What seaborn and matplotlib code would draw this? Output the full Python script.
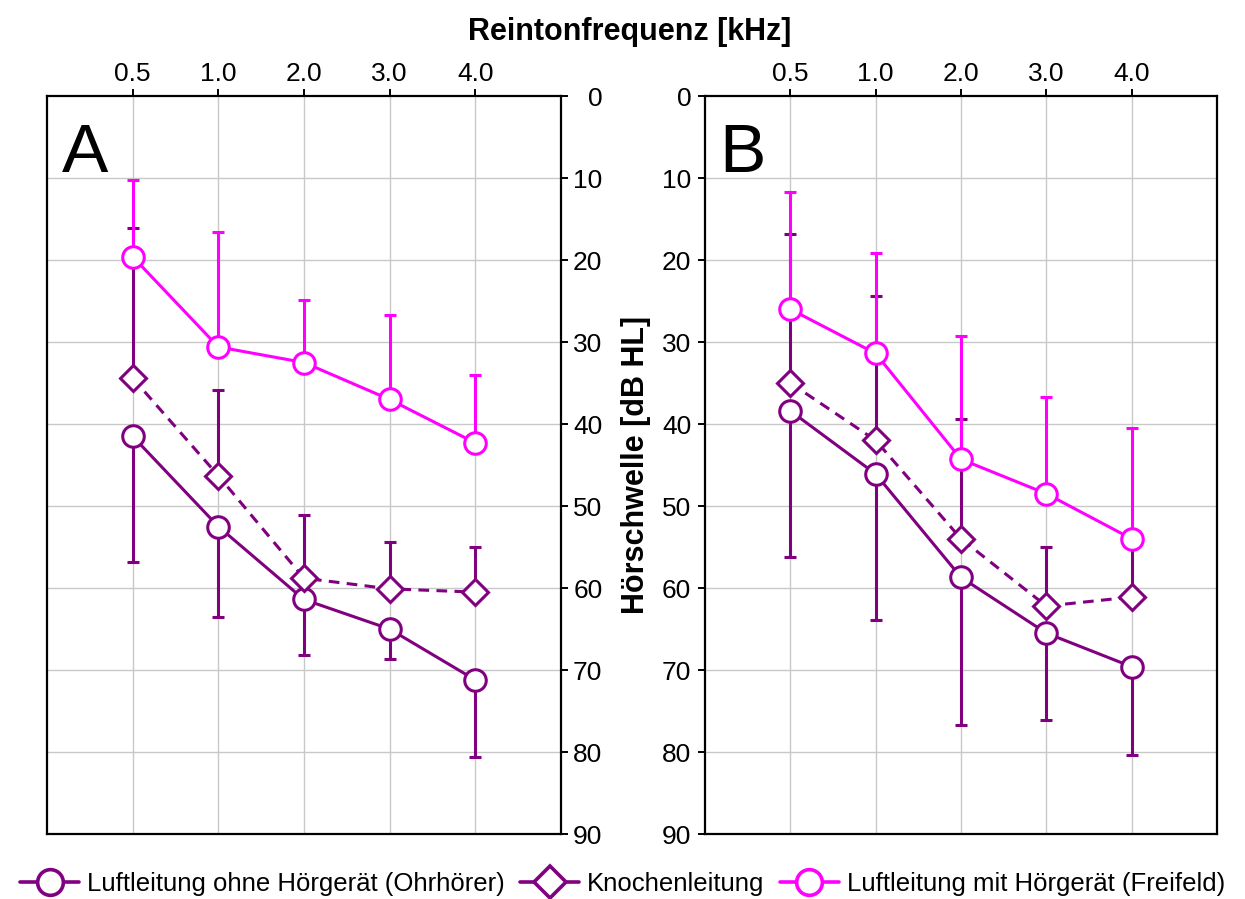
import numpy as np
import seaborn as sns
import matplotlib.pyplot as plt
from matplotlib.lines import Line2D

# Frequenzen (kategorial) und Achsenbeschriftung
freq_labels = ['0.5', '1.0', '2.0', '3.0', '4.0']
y_ticks = [0, 10, 20, 30, 40, 50, 60, 70, 80, 90]

series_names = ['Luftleitung ohne Hörgerät (Ohrhörer)', 'Knochenleitung',
                'Luftleitung mit Hörgerät (Freifeld)']

# Panel A: Mittelwerte und Enden der Fehlerbalken
a_ohr = [41.5, 52.5, 61.4, 65.0, 71.2]
a_ohr_cap = [56.8, 63.5, 68.2, 68.6, 80.6]
a_knochen = [34.4, 46.3, 58.8, 60.1, 60.5]
a_knochen_cap = [16.1, 35.9, 51.1, 54.4, 55.0]
a_frei = [19.6, 30.6, 32.5, 37.0, 42.3]
a_frei_cap = [10.2, 16.6, 24.9, 26.7, 34.0]

# Panel B
b_ohr = [38.4, 46.1, 58.7, 65.5, 69.6]
b_ohr_cap = [56.2, 63.9, 76.7, 76.1, 80.4]
b_knochen = [35.0, 42.0, 54.0, 62.2, 61.1]
b_knochen_cap = [16.8, 24.4, 39.4, 55.0, 54.5]
b_frei = [26.0, 31.4, 44.3, 48.5, 54.0]
b_frei_cap = [11.7, 19.1, 29.3, 36.7, 40.5]

purple = '#800080'
magenta = '#ff00ff'
styles = {
    series_names[0]: dict(color=purple, marker='o', ms=15.5, ls='-'),
    series_names[1]: dict(color=purple, marker='D', ms=13.5, ls=(0, (3.5, 2.4))),
    series_names[2]: dict(color=magenta, marker='o', ms=15.5, ls='-'),
}

sns.set_style('white')
plt.rcParams['font.family'] = ['Liberation Sans', 'DejaVu Sans']
for key in ['text.color', 'axes.labelcolor', 'xtick.color', 'ytick.color']:
    plt.rcParams[key] = 'black'

fig = plt.figure(figsize=(12.45, 8.99), dpi=100)
ax_a = fig.add_axes([0.0378, 0.0723, 0.4126, 0.8209])
ax_b = fig.add_axes([0.5663, 0.0723, 0.4112, 0.8209])


def draw_panel(ax, data):
    pos = np.arange(len(freq_labels))
    z = 3
    for name, (vals, caps) in zip(series_names, data):
        st = styles[name]
        vals = np.array(vals)
        caps = np.array(caps)
        yerr = [np.clip(vals - caps, 0, None), np.clip(caps - vals, 0, None)]
        ax.errorbar(pos, vals, yerr=yerr, fmt='none', ecolor=st['color'],
                    elinewidth=2.2, capsize=4.5, capthick=2.2, zorder=z)
        sns.lineplot(x=pos, y=vals, ax=ax, color=st['color'], marker=st['marker'],
                     markersize=st['ms'], markerfacecolor='white',
                     markeredgecolor=st['color'], markeredgewidth=2.2,
                     linestyle=st['ls'], linewidth=2.2, zorder=z + 0.5)
        z += 1

    ax.set_xlim(-1, 5)
    ax.set_ylim(90, 0)
    ax.set_xticks(pos)
    ax.set_xticklabels(freq_labels)
    ax.set_yticks(y_ticks)
    ax.xaxis.tick_top()
    ax.grid(True, axis='x', color='#c8c8c8', lw=1)
    for v in y_ticks[1:-1]:
        ax.axhline(v, color='#c8c8c8', lw=1, zorder=0.5)
    ax.set_xlabel('')
    ax.set_ylabel('')
    for sp in ax.spines.values():
        sp.set_visible(True)
        sp.set_color('black')
        sp.set_linewidth(1.6)
    ax.tick_params(axis='both', which='major', labelsize=19, length=5, width=1.4,
                   color='black', direction='out', pad=2)


draw_panel(ax_a, [(a_ohr, a_ohr_cap), (a_knochen, a_knochen_cap), (a_frei, a_frei_cap)])
draw_panel(ax_b, [(b_ohr, b_ohr_cap), (b_knochen, b_knochen_cap), (b_frei, b_frei_cap)])

ax_a.yaxis.tick_right()
ax_a.tick_params(axis='y', which='major', right=True, left=False, labelright=True,
                 labelleft=False, pad=25)
for lbl in ax_a.get_yticklabels():
    lbl.set_horizontalalignment('right')
ax_b.tick_params(axis='y', which='major', left=True, right=False, labelleft=True,
                 labelright=False, pad=5)

ax_a.text(0.028, 0.965, 'A', transform=ax_a.transAxes, fontsize=50, va='top', ha='left')
ax_b.text(0.028, 0.965, 'B', transform=ax_b.transAxes, fontsize=50, va='top', ha='left')

fig.text(0.506, 0.964, 'Reintonfrequenz [kHz]', ha='center', va='center',
         fontsize=22, fontweight='bold')
fig.text(0.511, 0.483, 'Hörschwelle [dB HL]', ha='center', va='center',
         fontsize=22, fontweight='bold', rotation=90)

handles = []
for name in series_names:
    st = styles[name]
    handles.append(Line2D([], [], color=st['color'], marker=st['marker'],
                          markersize=st['ms'] + 3, markerfacecolor='white',
                          markeredgecolor=st['color'], markeredgewidth=2.6,
                          linestyle='-', linewidth=2.6))
fig.legend(handles, series_names, loc='lower center', bbox_to_anchor=(0.5, -0.022),
           ncol=3, frameon=False, fontsize=18.5, handlelength=2.3, handletextpad=0.3,
           columnspacing=0.6)

fig.savefig('out.png', dpi=100)
